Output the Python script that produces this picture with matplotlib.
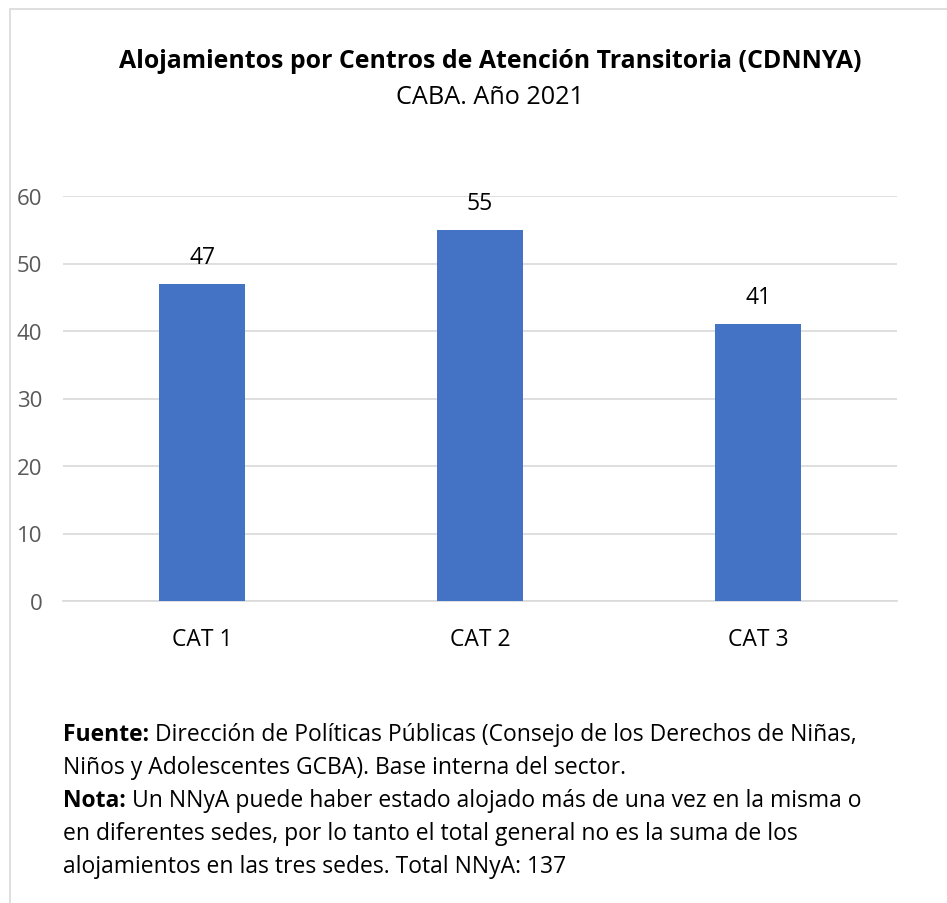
import matplotlib
matplotlib.use("Agg")
from matplotlib import pyplot as plt
from matplotlib.patches import Rectangle

categories = ["CAT 1", "CAT 2", "CAT 3"]
values = [47, 55, 41]
y_ticks = [0, 10, 20, 30, 40, 50, 60]

title = "Alojamientos por Centros de Atención Transitoria (CDNNYA)"
subtitle = "CABA. Año 2021"
note_lines = [
    ("Fuente:", " Dirección de Políticas Públicas (Consejo de los Derechos de Niñas,"),
    ("", "Niños y Adolescentes GCBA). Base interna del sector."),
    ("Nota:", " Un NNyA puede haber estado alojado más de una vez en la misma o"),
    ("", "en diferentes sedes, por lo tanto el total general no es la suma de los"),
    ("", "alojamientos en las tres sedes. Total NNyA: 137"),
]

plt.rcParams['font.family'] = ['Open Sans', 'DejaVu Sans']

W, H = 947, 904
fig = plt.figure(figsize=(W / 100, H / 100), dpi=100)

# outer chart frame
fig.patches.append(Rectangle((10 / W, -0.1), 1.1, 1 - 10 / H + 0.1, transform=fig.transFigure,
                             fill=False, edgecolor='#d9d9d9', linewidth=1.2))

ax = fig.add_axes([63 / W, 1 - 602 / H, (897 - 63) / W, 405 / H])
x = range(len(categories))
bars = ax.bar(x, values, width=0.31, color='#4472C4', zorder=3)
for b, v in zip(bars, values):
    ax.text(b.get_x() + b.get_width() / 2, v + 2.2, str(v), ha='center', va='bottom',
            fontsize=16.5, color='black')

ax.set_xlim(-0.5, 2.5)
ax.set_ylim(0, 60)
ax.set_yticks(y_ticks)
ax.set_xticks(list(x))
ax.set_xticklabels(categories, fontsize=16.5, color='black')
ax.tick_params(axis='y', labelsize=16, labelcolor='#595959', length=0, pad=15)
ax.tick_params(axis='x', length=0, pad=19)
ax.grid(axis='y', color='#d9d9d9', linewidth=1.2, zorder=0)
for s in ax.spines.values():
    s.set_visible(False)
ax.spines['bottom'].set_visible(True)
ax.spines['bottom'].set_color('#d9d9d9')
ax.spines['bottom'].set_linewidth(1.2)

fig.text(490 / W, 1 - 62 / H, title, ha='center', va='center', fontsize=17.9, fontweight='bold')
fig.text(490 / W, 1 - 97 / H, subtitle, ha='center', va='center', fontsize=18.2)

y0 = 735
for i, (bold, rest) in enumerate(note_lines):
    yy = 1 - (y0 + i * 33) / H
    if bold:
        t = fig.text(63 / W, yy, bold, ha='left', va='center', fontsize=16.5, fontweight='bold')
        fig.canvas.draw()
        bb = t.get_window_extent()
        fig.text(bb.x1 / W, yy, rest, ha='left', va='center', fontsize=16.5)
    else:
        fig.text(63 / W, yy, rest, ha='left', va='center', fontsize=16.5)

fig.savefig("out.png", dpi=100)
